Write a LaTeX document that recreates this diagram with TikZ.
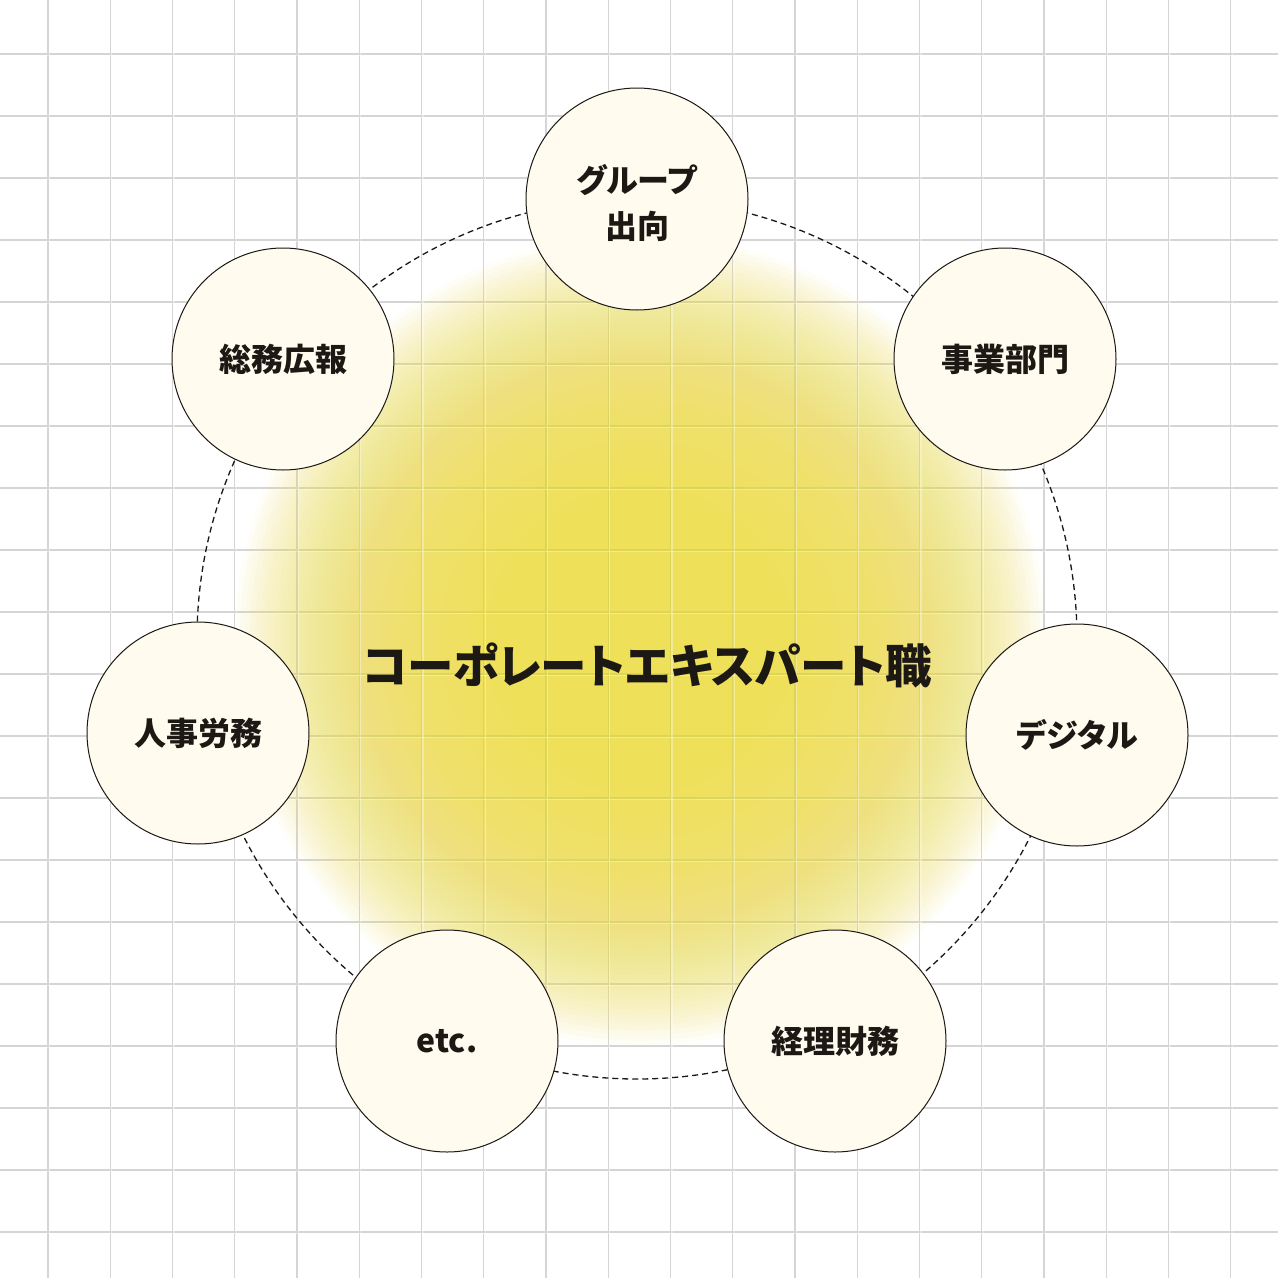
\documentclass[tikz,border=0pt]{standalone}
\usepackage{fontspec}
\setmainfont{Noto Sans CJK JP}[RawFeature=+palt]
\definecolor{ink}{HTML}{1C1814}
\definecolor{cream}{HTML}{FFFBEE}
\definecolor{gridc}{HTML}{D5D5D5}
\definecolor{glowc}{HTML}{EFE05A}
\tikzset{
  gridline/.style={draw=gridc, line width=1.4pt},
  gridhi/.style={draw=white, line width=1.2pt, opacity=0.35},
  glowlayer/.style={fill=glowc, opacity=0.05},
  ring/.style={draw=ink, line width=1.3pt, dash pattern=on 6pt off 4pt},
  bubble/.style={circle, draw=ink, line width=1pt, fill=cream, minimum size=222pt, inner sep=0pt, text=ink, font=\bfseries\fontsize{32}{46}\selectfont, align=center},
  titletext/.style={text=ink, font=\bfseries\fontsize{46.5}{52}\selectfont, inner sep=0pt}
}
\begin{document}
\begin{tikzpicture}[x=1pt, y=-1pt]
\useasboundingbox (0,0) rectangle (1280,1280);
\fill[white] (0,0) rectangle (1280,1280);
% grid
\foreach \i in {0,...,19} {
  \draw[gridline] ({48+62.25*\i},0) -- ({48+62.25*\i},1278);
  \draw[gridline] (0,{54+62*\i}) -- (1278,{54+62*\i});
}
% glow (stacked translucent discs)
\foreach \r in {100,105,...,405} {
  \fill[glowlayer] (640,640) circle[radius=\r];
}
\foreach \i in {0,...,19} {
  \draw[gridhi] ({49.5+62.25*\i},0) -- ({49.5+62.25*\i},1278);
  \draw[gridhi] (0,{55.5+62*\i}) -- (1278,{55.5+62*\i});
}
% dashed ring
\coordinate (ctr) at (637,639);
\draw[ring] (ctr) circle[radius=440];
% nodes
\node[bubble] (grp) at (637,199) {\rule{0pt}{36pt}グループ\\出向};
\node[bubble] (biz) at (1005,359) {事業部門};
\node[bubble] (dig) at (1077,735) {デジタル};
\node[bubble] (acc) at (835,1041) {経理財務};
\node[bubble] (etc) at (447,1041) {etc.};
\node[bubble] (hr) at (198,733) {人事労務};
\node[bubble] (ga) at (283,359) {総務広報};
% title
\node[titletext] (title) at (647,665) {コーポレートエキスパート職};
\end{tikzpicture}
\end{document}
